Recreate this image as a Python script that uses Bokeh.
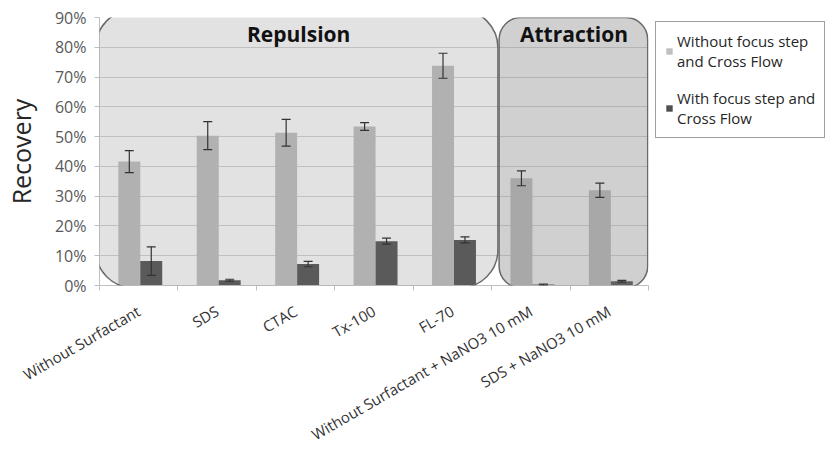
import math
from bokeh.plotting import figure
from bokeh.models import (ColumnDataSource, Range1d, FixedTicker, BoxAnnotation, Label,
                          Whisker, TeeHead, Legend, LegendItem, NumeralTickFormatter)
from bokeh.embed import file_html
from bokeh.resources import INLINE

# ---------------- data ----------------
categories = ["Without Surfactant", "SDS", "CTAC", "Tx-100", "FL-70",
              "Without Surfactant + NaNO3 10 mM", "SDS + NaNO3 10 mM"]
without_focus = [0.416, 0.503, 0.513, 0.534, 0.738, 0.360, 0.320]
without_focus_err = [0.037, 0.047, 0.045, 0.013, 0.042, 0.025, 0.024]
with_focus = [0.082, 0.018, 0.072, 0.149, 0.153, 0.003, 0.014]
with_focus_err = [0.048, 0.003, 0.009, 0.010, 0.010, 0.002, 0.003]
series_labels = ["Without focus step\nand Cross Flow", "With focus step and\nCross Flow"]
y_ticks = [0.0, 0.1, 0.2, 0.3, 0.4, 0.5, 0.6, 0.7, 0.8, 0.9]
group_names = ["Repulsion", "Attraction"]

# ---------------- styling ----------------
LIGHT = "#c0c0c0"
DARK = "#4f4f4f"
FONT = "Open Sans"

n = len(categories)
idx = list(range(n))
centers = [i + 0.5 for i in idx]
boundaries = list(range(n + 1))

src_a = ColumnDataSource(dict(
    x=[i + 0.38 for i in idx], top=without_focus,
    upper=[v + e for v, e in zip(without_focus, without_focus_err)],
    lower=[v - e for v, e in zip(without_focus, without_focus_err)]))
src_b = ColumnDataSource(dict(
    x=[i + 0.66 for i in idx], top=with_focus,
    upper=[v + e for v, e in zip(with_focus, with_focus_err)],
    lower=[max(v - e, 0) for v, e in zip(with_focus, with_focus_err)]))

p = figure(frame_width=549, frame_height=268, output_backend="svg", toolbar_location=None,
           x_range=Range1d(0, n), y_range=Range1d(0, 0.9),
           min_border_left=99, min_border_right=165, min_border_top=17,
           min_border_bottom=155)
p.outline_line_color = None
p.background_fill_color = "white"
p.border_fill_color = "white"

r_a = p.vbar(x="x", top="top", width=0.28, bottom=0, source=src_a,
             fill_color=LIGHT, line_color=None)
r_b = p.vbar(x="x", top="top", width=0.28, bottom=0, source=src_b,
             fill_color=DARK, line_color=None)

# group boxes (semi-transparent overlays, as in the original)
box_rep = BoxAnnotation(left=-0.05, right=5.08, bottom=-0.008, top=0.926,
                        fill_color="#808080", fill_alpha=0.23,
                        line_color="#6a6a6a", line_width=1.5, line_alpha=1.0,
                        border_radius=38)
box_att = BoxAnnotation(left=5.095, right=6.99, bottom=-0.008, top=0.90,
                        fill_color="#808080", fill_alpha=0.37,
                        line_color="#6a6a6a", line_width=1.5, line_alpha=1.0,
                        border_radius=22)
p.add_layout(box_rep)
p.add_layout(box_att)

for src in (src_a, src_b):
    w = Whisker(source=src, base="x", upper="upper", lower="lower", level="overlay",
                line_color="#333333", line_width=1.2,
                upper_head=TeeHead(size=9, line_color="#333333", line_width=1.2),
                lower_head=TeeHead(size=9, line_color="#333333", line_width=1.2))
    p.add_layout(w)

p.add_layout(Label(x=2.54, y=0.845, text=group_names[0], text_align="center",
                   text_baseline="middle", text_font=FONT, text_font_style="bold",
                   text_font_size="21px", text_color="#111111"))
p.add_layout(Label(x=6.05, y=0.845, text=group_names[1], text_align="center",
                   text_baseline="middle", text_font=FONT, text_font_style="bold",
                   text_font_size="21px", text_color="#111111"))

# axes
p.yaxis.ticker = FixedTicker(ticks=y_ticks)
p.yaxis.formatter = NumeralTickFormatter(format="0%")
p.yaxis.major_label_text_font = FONT
p.yaxis.major_label_text_font_size = "16px"
p.yaxis.major_label_text_color = "#595959"
p.yaxis.axis_line_color = "#bfbfbf"
p.yaxis.major_tick_line_color = "#bfbfbf"
p.yaxis.major_tick_out = 5
p.yaxis.major_tick_in = 0
p.yaxis.minor_tick_line_color = None
p.yaxis.major_label_standoff = 8
p.yaxis.axis_label = "Recovery"
p.yaxis.axis_label_text_font = FONT
p.yaxis.axis_label_text_font_size = "25px"
p.yaxis.axis_label_text_font_style = "normal"
p.yaxis.axis_label_text_color = "#262626"
p.yaxis.axis_label_standoff = 14

p.xaxis.ticker = FixedTicker(ticks=centers, minor_ticks=boundaries)
p.xaxis.major_label_overrides = {c: name for c, name in zip(centers, categories)}
p.xaxis.major_tick_line_color = None
p.xaxis.minor_tick_line_color = "#bfbfbf"
p.xaxis.minor_tick_out = 5
p.xaxis.minor_tick_in = 0
p.xaxis.axis_line_color = "#bfbfbf"
p.xaxis.major_label_orientation = math.pi / 6
p.xaxis.major_label_text_font = FONT
p.xaxis.major_label_text_font_size = "15px"
p.xaxis.major_label_text_color = "#333333"
p.xaxis.major_label_standoff = 18

p.xgrid.visible = False
p.ygrid.ticker = FixedTicker(ticks=y_ticks)
p.ygrid.grid_line_color = "#d3d3d3"

legend = Legend(items=[LegendItem(label=series_labels[0], renderers=[r_a]),
                       LegendItem(label=series_labels[1], renderers=[r_b])],
                location=(7, 147), padding=9, spacing=17,
                glyph_width=8, glyph_height=8, label_standoff=4,
                label_text_font=FONT, label_text_font_size="15px",
                label_text_color="#262626", label_text_line_height=1.6,
                border_line_color="#404040", border_line_width=1.5,
                background_fill_color="white", background_fill_alpha=1.0)
p.add_layout(legend, "right")

open("out.html", "w").write(file_html(p, INLINE))
